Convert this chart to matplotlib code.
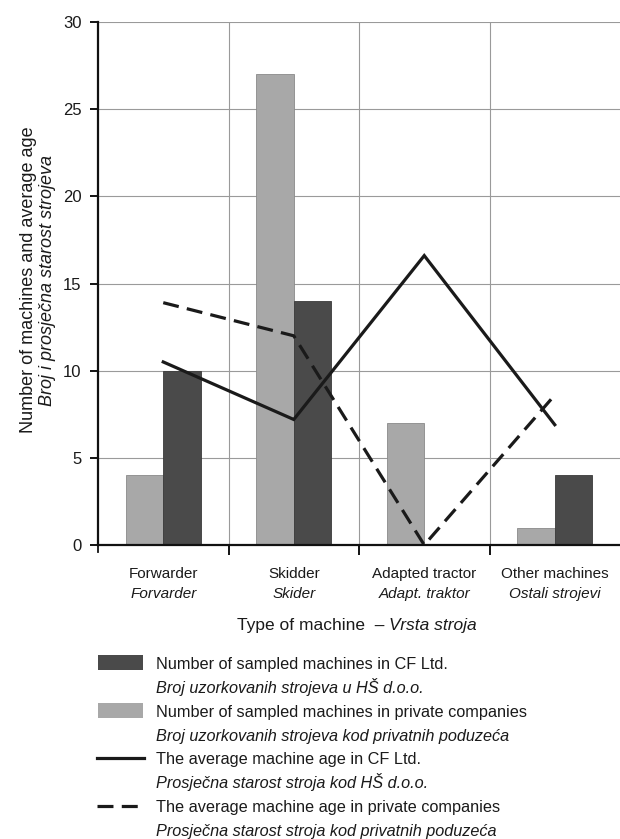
import matplotlib
matplotlib.use("Agg")
import matplotlib.pyplot as plt
import matplotlib.transforms as mtransforms
from matplotlib.patches import Rectangle
from matplotlib.lines import Line2D
import numpy as np

plt.rcParams['font.family'] = ['Liberation Sans', 'DejaVu Sans']

categories_en = ["Forwarder", "Skidder", "Adapted tractor", "Other machines"]
categories_hr = ["Forvarder", "Skider", "Adapt. traktor", "Ostali strojevi"]
private_count = [4, 27, 7, 1]
cf_count = [10, 14, 0, 4]
cf_age = [10.5, 7.2, 16.6, 6.9]
private_age = [13.9, 12.0, 0.0, 8.6]
yticks = [0, 5, 10, 15, 20, 25, 30]

legend_en = ["Number of sampled machines in CF Ltd.",
             "Number of sampled machines in private companies",
             "The average machine age in CF Ltd.",
             "The average machine age in private companies"]
legend_hr = ["Broj uzorkovanih strojeva u HŠ d.o.o.",
             "Broj uzorkovanih strojeva kod privatnih poduzeća",
             "Prosječna starost stroja kod HŠ d.o.o.",
             "Prosječna starost stroja kod privatnih poduzeća"]

W, H = 620, 839
fig = plt.figure(figsize=(W / 100, H / 100), dpi=100)
ax = fig.add_axes([98 / W, 1 - 545 / H, (620 - 98) / W, (545 - 22) / H])

FS_TICK = 12
FS_CAT = 11
FS_TITLE = 12.5
FS_LEG = 11.7
FS_YLAB = 13
LIGHT = "#a8a8a8"
DARK = "#4a4a4a"
TXT = "#1a1a1a"

x = np.arange(len(categories_en))
bw = 0.287
ax.bar(x - bw / 2, private_count, width=bw, color=LIGHT, edgecolor="#8a8a8a", linewidth=0.6, zorder=2)
ax.bar(x + bw / 2, cf_count, width=bw, color=DARK, edgecolor="#3a3a3a", linewidth=0.6, zorder=2)
ax.plot(x, cf_age, color="#1a1a1a", lw=2.3, zorder=3, solid_joinstyle="miter")
ax.plot(x, private_age, color="#1a1a1a", lw=2.3, dashes=(5, 2.6), zorder=3)

ax.set_xlim(-0.5, len(categories_en) - 0.5)
ax.set_ylim(0, 30)
ax.set_yticks(yticks)
ax.set_yticklabels([str(v) for v in yticks], fontsize=FS_TICK, color=TXT)
ax.set_xticks(x)
ax.set_xticklabels([])
ax.tick_params(axis='x', which='major', length=0)
ax.set_xticks(np.arange(0.5, len(categories_en) - 0.5, 1), minor=True)
ax.tick_params(axis='x', which='minor', length=7, width=1.3, direction='out')
ax.tick_params(axis='y', length=6, width=1.3, direction='out', pad=6)

ax.grid(axis='y', which='major', color="#9a9a9a", lw=0.8, zorder=0)
ax.grid(axis='x', which='minor', color="#9a9a9a", lw=0.8, zorder=0)
ax.set_axisbelow(True)

for s in ["top", "right"]:
    ax.spines[s].set_visible(False)
for s in ["left", "bottom"]:
    ax.spines[s].set_linewidth(1.6)
    ax.spines[s].set_color("#111111")
ax.spines['bottom'].set_zorder(4)

trans_x = mtransforms.blended_transform_factory(ax.transData, ax.transAxes)
ax.plot([-0.5, -0.5], [0, -7 / 523], transform=trans_x, color="#111111", lw=1.3, clip_on=False)

# two-line category labels
for i in range(len(categories_en)):
    ax.annotate(categories_en[i], xy=(i, 0), xycoords=trans_x, xytext=(0, -33), textcoords="offset pixels",
                ha="center", va="baseline", fontsize=FS_CAT, color=TXT)
    ax.annotate(categories_hr[i], xy=(i, 0), xycoords=trans_x, xytext=(0, -53), textcoords="offset pixels",
                ha="center", va="baseline", fontsize=FS_CAT, style="italic", color=TXT)

# x axis title
fig.canvas.draw()
r = fig.canvas.get_renderer()
t1 = fig.text(0, 1 - 630 / H, "Type of machine  – ", fontsize=FS_TITLE, ha="left", va="baseline", color=TXT)
t2 = fig.text(0, 1 - 630 / H, "Vrsta stroja", fontsize=FS_TITLE, ha="left", va="baseline",
              style="italic", color=TXT)
w1 = t1.get_window_extent(r).width
w2 = t2.get_window_extent(r).width
cx = 357
t1.set_x((cx - (w1 + w2) / 2) / W)
t2.set_x((cx - (w1 + w2) / 2 + w1) / W)

# y axis label (two lines)
fig.text(33 / W, 1 - 280 / H, "Number of machines and average age", rotation=90,
         ha="center", va="baseline", rotation_mode="anchor", fontsize=FS_YLAB, color=TXT)
fig.text(52 / W, 1 - 280 / H, "Broj i prosječna starost strojeva", rotation=90,
         ha="center", va="baseline", rotation_mode="anchor", fontsize=FS_YLAB, style="italic", color=TXT)

# legend
ys = [663, 711, 758, 806]
for k in range(4):
    y = ys[k]
    if k == 0:
        fig.patches.append(Rectangle((98 / W, 1 - 670 / H), 45 / W, 15 / H, transform=fig.transFigure,
                                     facecolor=DARK, edgecolor="none"))
    elif k == 1:
        fig.patches.append(Rectangle((98 / W, 1 - 718 / H), 45 / W, 15 / H, transform=fig.transFigure,
                                     facecolor=LIGHT, edgecolor="none"))
    elif k == 2:
        fig.lines.append(Line2D([97 / W, 144 / W], [1 - y / H] * 2, transform=fig.transFigure,
                                color="#1a1a1a", lw=2.3))
    else:
        fig.lines.append(Line2D([97 / W, 144 / W], [1 - y / H] * 2, transform=fig.transFigure,
                                color="#1a1a1a", lw=2.3, dashes=(5, 2.6)))
    fig.text(156 / W, 1 - (y + 6) / H, legend_en[k], fontsize=FS_LEG, ha="left", va="baseline", color=TXT)
    fig.text(156 / W, 1 - (y + 30) / H, legend_hr[k], fontsize=FS_LEG, ha="left", va="baseline",
             style="italic", color=TXT)

fig.savefig("out.png", dpi=100)
